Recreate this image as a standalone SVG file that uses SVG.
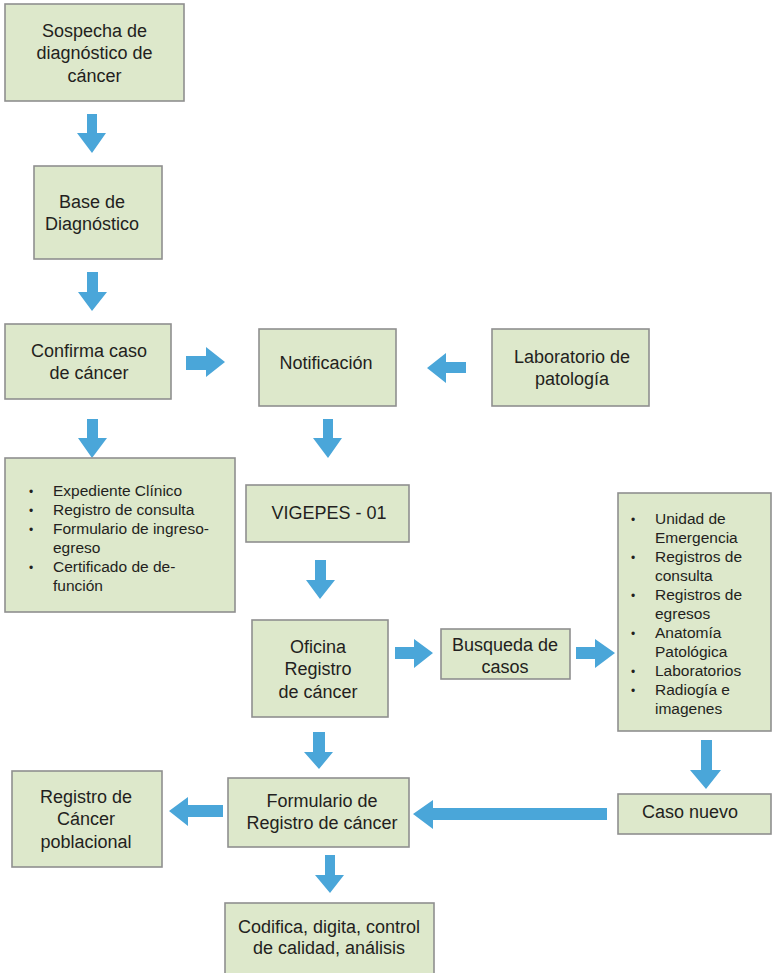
<svg xmlns="http://www.w3.org/2000/svg" width="772" height="973" viewBox="0 0 772 973">
<style>
.box{fill:#dde8cb;stroke:#8f8f8f;stroke-width:1.6}
.t{font-family:"Liberation Sans",Arial,sans-serif;font-size:18px;fill:#231f20;text-anchor:middle}
.l{font-family:"Liberation Sans",Arial,sans-serif;font-size:15.5px;fill:#231f20}
.b{font-family:"Liberation Sans",Arial,sans-serif;font-size:12px;fill:#231f20}
.arr{fill:#4aa6d9}
</style>
<rect width="772" height="973" fill="#ffffff"/>
<g id="connectors">
<polygon class="arr" points="87,114 97,114 97,133 106,133 92,153 77,133 87,133"/>
<polygon class="arr" points="87,272 98,272 98,292 107,292 92,311 78,292 87,292"/>
<polygon class="arr" points="87,419 98,419 98,438 107,438 92,458 78,438 87,438"/>
<polygon class="arr" points="323,419 333,419 333,438 342,438 328,458 313,438 323,438"/>
<polygon class="arr" points="315,560 326,560 326,580 335,580 320,599 306,580 315,580"/>
<polygon class="arr" points="313,732 325,732 325,752 333,752 319,769 304,752 313,752"/>
<polygon class="arr" points="325,855 335,855 335,875 344,875 330,893 315,875 325,875"/>
<polygon class="arr" points="701,740 712,740 712,770 721,770 706,789 690,770 701,770"/>
<polygon class="arr" points="186,356 206,356 206,347 225,362 206,377 206,370 186,370"/>
<polygon class="arr" points="395,647 414,647 414,639 433,653 414,668 414,659 395,659"/>
<polygon class="arr" points="576,647 595,647 595,639 615,653 595,668 595,659 576,659"/>
<polygon class="arr" points="466,362 446,362 446,353 427,368 446,383 446,373 466,373"/>
<polygon class="arr" points="607,808 433,808 433,800 413,814 433,829 433,820 607,820"/>
<polygon class="arr" points="223,805 188,805 188,797 169,811 188,826 188,817 223,817"/>
</g>
<g id="sospecha">
<rect class="box" x="5" y="4" width="179" height="97"/>
<text class="t" x="94.5" y="37">Sospecha de</text>
<text class="t" x="94.5" y="59">diagnóstico de</text>
<text class="t" x="94.5" y="82">cáncer</text>
</g>
<g id="base">
<rect class="box" x="34" y="166" width="128" height="93"/>
<text class="t" x="92" y="208">Base de</text>
<text class="t" x="92" y="230">Diagnóstico</text>
</g>
<g id="confirma">
<rect class="box" x="5" y="324" width="166" height="75"/>
<text class="t" x="89" y="357">Confirma caso</text>
<text class="t" x="89" y="379">de cáncer</text>
</g>
<g id="notificacion">
<rect class="box" x="259" y="329" width="137" height="77"/>
<text class="t" x="326" y="369">Notificación</text>
</g>
<g id="laboratorio">
<rect class="box" x="492" y="329" width="157" height="77"/>
<text class="t" x="572" y="363">Laboratorio de</text>
<text class="t" x="572" y="385">patología</text>
</g>
<g id="fuentes">
<rect class="box" x="5" y="458" width="230" height="154"/>
<text class="b" x="29" y="496">•</text><text class="l" x="53" y="496">Expediente Clínico</text>
<text class="b" x="29" y="515">•</text><text class="l" x="53" y="515">Registro de consulta</text>
<text class="b" x="29" y="534">•</text><text class="l" x="53" y="534">Formulario de ingreso-</text>
<text class="l" x="53" y="553">egreso</text>
<text class="b" x="29" y="572">•</text><text class="l" x="53" y="572">Certificado de de-</text>
<text class="l" x="53" y="591">función</text>
</g>
<g id="vigepes">
<rect class="box" x="246" y="485" width="163" height="57"/>
<text class="t" x="329" y="519">VIGEPES - 01</text>
</g>
<g id="oficina">
<rect class="box" x="252" y="620" width="136" height="97"/>
<text class="t" x="318" y="653">Oficina</text>
<text class="t" x="318" y="675">Registro</text>
<text class="t" x="318" y="698">de cáncer</text>
</g>
<g id="busqueda">
<rect class="box" x="441" y="629" width="129" height="50"/>
<text class="t" x="505" y="651">Busqueda de</text>
<text class="t" x="505" y="673">casos</text>
</g>
<g id="unidades">
<rect class="box" x="618" y="493" width="153" height="238"/>
<text class="b" x="631" y="524">•</text><text class="l" x="655" y="524">Unidad de</text>
<text class="l" x="655" y="543">Emergencia</text>
<text class="b" x="631" y="562">•</text><text class="l" x="655" y="562">Registros de</text>
<text class="l" x="655" y="581">consulta</text>
<text class="b" x="631" y="600">•</text><text class="l" x="655" y="600">Registros de</text>
<text class="l" x="655" y="619">egresos</text>
<text class="b" x="631" y="638">•</text><text class="l" x="655" y="638">Anatomía</text>
<text class="l" x="655" y="657">Patológica</text>
<text class="b" x="631" y="676">•</text><text class="l" x="655" y="676">Laboratorios</text>
<text class="b" x="631" y="695">•</text><text class="l" x="655" y="695">Radiogía e</text>
<text class="l" x="655" y="714">imagenes</text>
</g>
<g id="caso-nuevo">
<rect class="box" x="618" y="794" width="153" height="40"/>
<text class="t" x="690" y="818">Caso nuevo</text>
</g>
<g id="formulario">
<rect class="box" x="228" y="778" width="181" height="69"/>
<text class="t" x="322" y="807">Formulario de</text>
<text class="t" x="322" y="829">Registro de cáncer</text>
</g>
<g id="registro-poblacional">
<rect class="box" x="12" y="771" width="150" height="96"/>
<text class="t" x="86" y="803">Registro de</text>
<text class="t" x="86" y="825">Cáncer</text>
<text class="t" x="86" y="848">poblacional</text>
</g>
<g id="codifica">
<rect class="box" x="225" y="903" width="209" height="75"/>
<text class="t" x="329" y="933">Codifica, digita, control</text>
<text class="t" x="329" y="954">de calidad, análisis</text>
</g>
</svg>
